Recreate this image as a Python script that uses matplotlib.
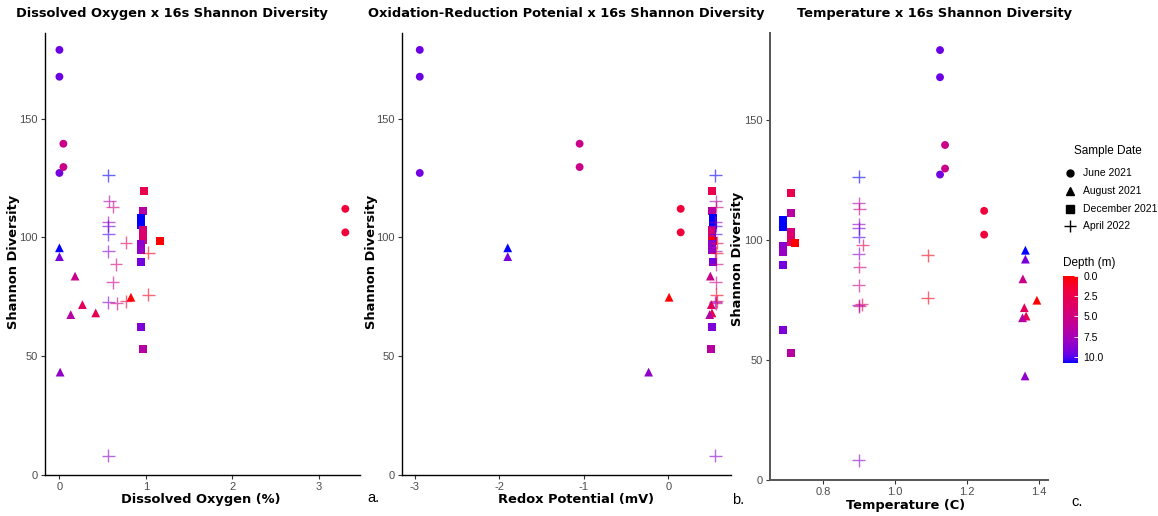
import numpy as np
import matplotlib
matplotlib.use('Agg')
import matplotlib.pyplot as plt
from matplotlib.colors import LinearSegmentedColormap, Normalize

plt.rcParams['font.family'] = ['Liberation Sans', 'DejaVu Sans']
plt.rcParams['axes.unicode_minus'] = False

# shannon diversity, dissolved oxygen (%), redox (mV), temperature (C), depth (m)
jun_sh = [178.9, 167.6, 127.1, 139.4, 129.6, 112.0, 102.1]
jun_do = [0.0, 0.0, 0.0, 0.046, 0.046, 3.31, 3.31]
jun_orp = [-2.94, -2.94, -2.94, -1.05, -1.05, 0.145, 0.145]
jun_temp = [1.125, 1.125, 1.125, 1.139, 1.139, 1.248, 1.248]
jun_depth = [9.6, 9.6, 9.4, 5.4, 5.4, 1.8, 1.8]

aug_sh = [95.6, 91.9, 83.7, 74.8, 71.7, 68.2, 67.5, 43.3]
aug_do = [0.0, 0.0, 0.181, 0.828, 0.266, 0.42, 0.131, 0.008]
aug_orp = [-1.90, -1.90, 0.496, 0.008, 0.507, 0.515, 0.488, -0.234]
aug_temp = [1.363, 1.363, 1.356, 1.395, 1.36, 1.365, 1.355, 1.362]
aug_depth = [10.8, 9.3, 5.4, 0.0, 3.2, 2.6, 6.6, 8.4]

dec_sh = [119.5, 111.0, 108.3, 105.2, 103.3, 101.0, 98.9, 98.5, 97.2, 94.8, 89.6, 62.3, 52.9]
dec_do = [0.98, 0.97, 0.94, 0.94, 0.965, 0.965, 0.965, 1.163, 0.94, 0.94, 0.945, 0.945, 0.965]
dec_orp = [0.515, 0.515, 0.526, 0.526, 0.51, 0.51, 0.51, 0.53, 0.515, 0.515, 0.526, 0.515, 0.507]
dec_temp = [0.71, 0.71, 0.686, 0.686, 0.71, 0.71, 0.71, 0.721, 0.686, 0.686, 0.686, 0.686, 0.71]
dec_depth = [2.6, 6.6, 10.8, 10.8, 4.5, 4.0, 3.8, 0.0, 8.6, 8.2, 9.4, 9.0, 6.6]

apr_sh = [126.2, 115.3, 112.8, 106.5, 104.8, 101.3, 97.8, 94.2, 93.5, 88.6, 81.1, 75.9, 73.1, 72.7, 72.2, 8.2]
apr_do = [0.566, 0.577, 0.616, 0.566, 0.566, 0.566, 0.77, 0.566, 1.028, 0.655, 0.616, 1.028, 0.77, 0.566, 0.663, 0.566]
apr_orp = [0.554, 0.56, 0.565, 0.555, 0.56, 0.555, 0.57, 0.555, 0.566, 0.565, 0.56, 0.566, 0.57, 0.555, 0.56, 0.554]
apr_temp = [0.898, 0.898, 0.9, 0.898, 0.898, 0.898, 0.909, 0.898, 1.091, 0.9, 0.898, 1.091, 0.907, 0.898, 0.9, 0.898]
apr_depth = [10.8, 7.0, 5.0, 8.0, 9.6, 10.2, 3.0, 8.6, 0.5, 4.6, 5.4, 0.8, 2.0, 8.6, 5.0, 8.6]

dates = ['June 2021', 'August 2021', 'December 2021', 'April 2022']

# red -> blue through Lab, like ggplot's gradient
cmap = LinearSegmentedColormap.from_list('depth', [
    (0.0, '#FF0000'), (0.125, '#F40031'), (0.25, '#E80050'), (0.375, '#DA006C'),
    (0.5, '#CA0089'), (0.625, '#B500A5'), (0.75, '#9A00C2'), (0.875, '#7300E0'),
    (0.9375, '#5300F0'), (1.0, '#0000FF')])
norm = Normalize(0, 10.8)

groups = [
    (jun_sh, jun_do, jun_orp, jun_temp, jun_depth, 'o', 32, 1.0),
    (aug_sh, aug_do, aug_orp, aug_temp, aug_depth, '^', 40, 1.0),
    (dec_sh, dec_do, dec_orp, dec_temp, dec_depth, 's', 33, 1.0),
    (apr_sh, apr_do, apr_orp, apr_temp, apr_depth, '+', 85, 0.6),
]

fig = plt.figure(figsize=(11.58, 5.16), dpi=100)
W, H = 1158., 516.

def px_axes(l, t, r, b):
    return fig.add_axes([l / W, 1 - b / H, (r - l) / W, (b - t) / H])

ax1 = px_axes(45, 33, 360, 475)
ax2 = px_axes(402, 33, 731, 475)
ax3 = px_axes(770, 33, 1048, 480)

for ax, k in [(ax1, 1), (ax2, 2), (ax3, 3)]:
    for g in groups:
        sh, x, c, mk, s, a = g[0], g[k], g[4], g[5], g[6], g[7]
        if mk == '+':
            ax.scatter(x, sh, c=c, cmap=cmap, norm=norm, marker=mk, s=s,
                       linewidths=1.0, alpha=a)
        else:
            ax.scatter(x, sh, c=c, cmap=cmap, norm=norm, marker=mk, s=s,
                       linewidths=0, alpha=a)
    ax.set_ylim(0, 186)
    ax.set_yticks([0, 50, 100, 150])
    for sp in ['top', 'right']:
        ax.spines[sp].set_visible(False)
    for sp in ['left', 'bottom']:
        ax.spines[sp].set_linewidth(1.0)
    ax.tick_params(length=3, width=0.8, color='#333333', labelcolor='#4D4D4D',
                   labelsize=8, pad=2)

ax1.set_xlim(-0.167, 3.48)
ax1.set_xticks([0, 1, 2, 3])
ax2.set_xlim(-3.15, 0.74)
ax2.set_xticks([-3, -2, -1, 0])
ax3.set_xlim(0.651, 1.426)
ax3.set_xticks([0.8, 1.0, 1.2, 1.4])
ax3.set_xticklabels(['0.8', '1.0', '1.2', '1.4'])
ax3.spines['left'].set_color('#555555')
ax3.spines['bottom'].set_color('#555555')
ax3.spines['left'].set_linewidth(1.4)
ax3.spines['bottom'].set_linewidth(1.4)

heavy = dict(family='DejaVu Sans', fontweight='bold', fontsize=9.35)

def ftext(x, y, s, **kw):
    fig.text(x / W, 1 - y / H, s, **kw)

ftext(172, 14, 'Dissolved Oxygen x 16s Shannon Diversity', ha='center', va='center', **heavy)
ftext(566, 14, 'Oxidation-Reduction Potenial x 16s Shannon Diversity', ha='center', va='center', **heavy)
ftext(935, 14, 'Temperature x 16s Shannon Diversity', ha='center', va='center', **heavy)

ftext(201, 500, 'Dissolved Oxygen (%)', ha='center', va='center', **heavy)
ftext(576, 500, 'Redox Potential (mV)', ha='center', va='center', **heavy)
ftext(906, 506, 'Temperature (C)', ha='center', va='center', **heavy)

ftext(14, 262, 'Shannon Diversity', ha='center', va='center', rotation=90, **heavy)
ftext(372, 262, 'Shannon Diversity', ha='center', va='center', rotation=90, **heavy)
ftext(737, 259, 'Shannon Diversity', ha='center', va='center', rotation=90, **heavy)

ftext(367, 498, 'a.', ha='left', va='center', fontsize=10.5)
ftext(732, 500, 'b.', ha='left', va='center', fontsize=10.5)
ftext(1071, 502, 'c.', ha='left', va='center', fontsize=10.5)

# legend for sample date
ftext(1074, 151, 'Sample Date', ha='left', va='center', fontsize=8.5)
leg_y = [172.7, 190.7, 208.7, 226]
leg_mk = ['o', '^', 's', '+']
leg_ms = [5, 6, 5.5, 9]
lax = fig.add_axes([0, 0, 1, 1], facecolor='none')
lax.set_xlim(0, W)
lax.set_ylim(H, 0)
lax.axis('off')
for y, mk, ms, d in zip(leg_y, leg_mk, leg_ms, dates):
    lax.plot([1070], [y], marker=mk, ms=ms, color='black', ls='none', mew=1.0)
    lax.text(1083, y, d, ha='left', va='center', fontsize=7.5)

# depth colourbar
ftext(1063, 263, 'Depth (m)', ha='left', va='center', fontsize=8.5)
cax = px_axes(1063, 275.7, 1078, 363.3)
sm = plt.cm.ScalarMappable(norm=norm, cmap=cmap)
cb = fig.colorbar(sm, cax=cax)
cb.outline.set_visible(False)
cb.set_ticks([0, 2.5, 5, 7.5, 10])
cb.set_ticklabels(['0.0', '2.5', '5.0', '7.5', '10.0'])
cax.invert_yaxis()
cax.tick_params(length=3, width=0.6, color='white', direction='in', labelsize=7.5, pad=4)

fig.savefig('out.png', dpi=100)
